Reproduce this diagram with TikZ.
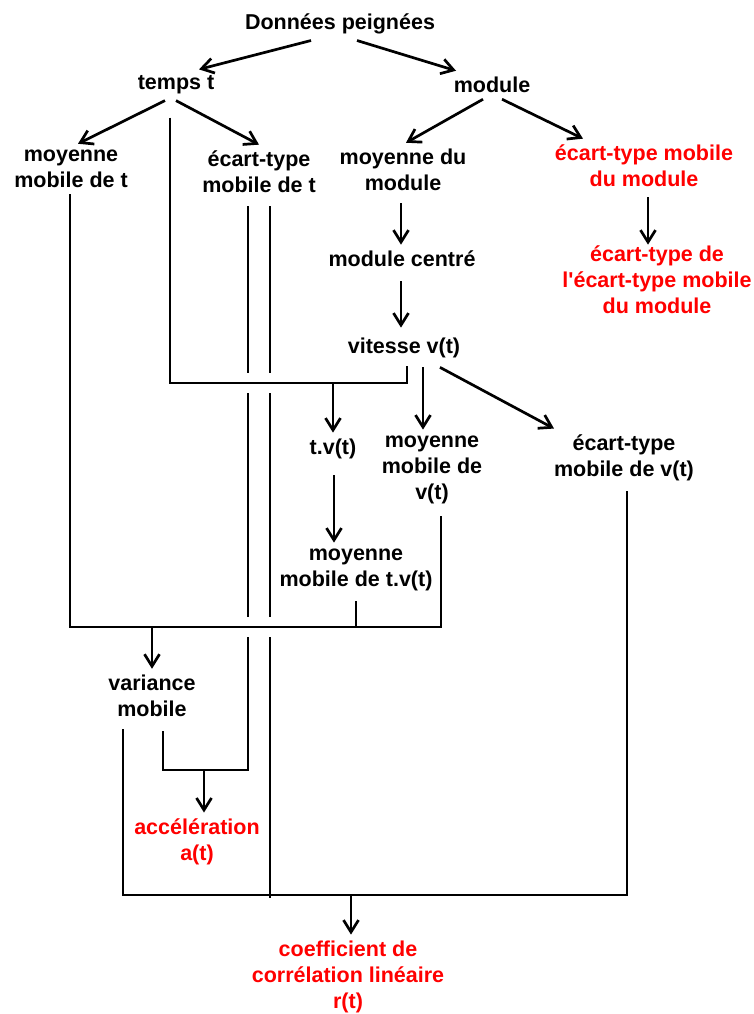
\documentclass[tikz,border=0pt]{standalone}
\usepackage{fontspec}
\newfontfamily\police{Liberation Sans}
\usetikzlibrary{arrows.meta}

\begin{document}
\begin{tikzpicture}[x=1pt,y=-1pt,line width=2.7pt,
    boite/.style={font=\police\bfseries\fontsize{21.5}{26}\selectfont,align=center,inner sep=5pt},
    rouge/.style={boite,text=red},
    fleche/.style={-{Straight Barb[length=12pt,width=15pt]}}]
\useasboundingbox (0,0) rectangle (754,1014);
% les noeuds
\node[boite] (donnees) at (340,24) {Données peignées};
\node[boite] (temps) at (176,85) {temps t};
\node[boite] (module) at (492,85) {module};
\node[boite] (moyt) at (71,169) {moyenne\\mobile de t};
\node[boite] (ectt) at (259,172) {écart-type\\mobile de t};
\node[boite] (moymod) at (403,170) {moyenne du\\module};
\node[rouge] (ectmod) at (644,166) {écart-type mobile\\du module};
\node[boite] (modc) at (402,259) {module centré};
\node[rouge] (ectect) at (657,280) {écart-type de\\l'écart-type mobile\\du module};
\node[boite] (vitesse) at (404,348) {vitesse v(t)};
\node[boite] (tv) at (333,449) {t.v(t)};
\node[boite] (moyv) at (432,470) {moyenne\\mobile de\\v(t)};
\node[boite] (ectv) at (624,458) {écart-type\\mobile de v(t)};
\node[boite] (moytv) at (356,570) {moyenne\\mobile de t.v(t)};
\node[boite] (variance) at (152,696) {variance\\mobile};
\node[rouge] (accel) at (197,842) {accélération\\a(t)};
\node[rouge] (coeff) at (348,977) {coefficient de\\corrélation linéaire\\r(t)};
\coordinate (busa) at (333,383);
\coordinate (busb) at (152,627);
\coordinate (accj) at (204,770);
\coordinate (busr) at (351,895);
% fleches
\draw[fleche] ([xshift=-29pt]donnees.south) -- ([xshift=23pt]temps.north);
\draw[fleche] ([xshift=17pt]donnees.south) -- ([xshift=-36pt]module.north);
\draw[fleche] ([xshift=-11pt]temps.south) -- ([xshift=7pt]moyt.north);
\draw[fleche] (temps.south) -- (ectt.north);
\draw[fleche] ([xshift=-9pt]module.south) -- ([xshift=3pt]moymod.north);
\draw[fleche] ([xshift=10pt]module.south) -- ([xshift=-61pt]ectmod.north);
\draw[fleche] ([xshift=-2pt,yshift=-6pt]moymod.south) -- ([xshift=-1pt]modc.north);
\draw[fleche] ([xshift=-1pt,yshift=-8pt]modc.south) -- ([xshift=-3pt,yshift=4pt]vitesse.north);
\draw[fleche] ([xshift=4pt,yshift=-4pt]ectmod.south) -- ([xshift=-9pt,yshift=-5pt]ectect.north);
\draw[fleche] ([xshift=19pt,yshift=-3pt]vitesse.south) -- ([xshift=-9pt]moyv.north);
\draw[fleche] ([xshift=36pt,yshift=-3pt]vitesse.south) -- ([xshift=-70pt]ectv.north);
\draw[fleche] ([xshift=1pt,yshift=-10pt]tv.south) -- ([xshift=-22pt]moytv.north);
% t et v(t) vers t.v(t)
\draw ([xshift=-6pt,yshift=-17pt]temps.south) |- (busa) -| ([xshift=3pt,yshift=-2pt]vitesse.south);
\draw[fleche] (busa) -- (tv.north);
% les deux traits de l'ecart-type mobile de t
\foreach \dx in {-11pt,11pt}{
  \draw ([xshift=\dx,yshift=-7pt]ectt.south) -- ([xshift=\dx,yshift=10pt]ectt.south |- busa);
  \draw ([xshift=\dx,yshift=-10pt]ectt.south |- busa) -- ([xshift=\dx,yshift=10pt]ectt.south |- busb);
}
% variance mobile
\draw ([xshift=-1pt]moyt.south) |- (busb) -| ([xshift=9pt,yshift=-6pt]moyv.south);
\draw ([yshift=-4pt]moytv.south) -- (moytv.south |- busb);
\draw[fleche] (busb) -- (variance.north);
% acceleration
\draw ([xshift=11pt,yshift=-8pt]variance.south) |- ([xshift=-11pt]ectt.south |- accj) -- ([xshift=-11pt,yshift=-10pt]ectt.south |- busb);
\draw[fleche] (accj) -- ([xshift=7pt]accel.north);
% coefficient de correlation
\draw ([xshift=-29pt,yshift=-6pt]variance.south) |- (busr) -| ([xshift=3pt,yshift=-4pt]ectv.south);
\draw ([xshift=11pt,yshift=-10pt]ectt.south |- busb) -- ([xshift=11pt,yshift=-3pt]ectt.south |- busr);
\draw[fleche] (busr) -- ([xshift=3pt]coeff.north);
\end{tikzpicture}
\end{document}
